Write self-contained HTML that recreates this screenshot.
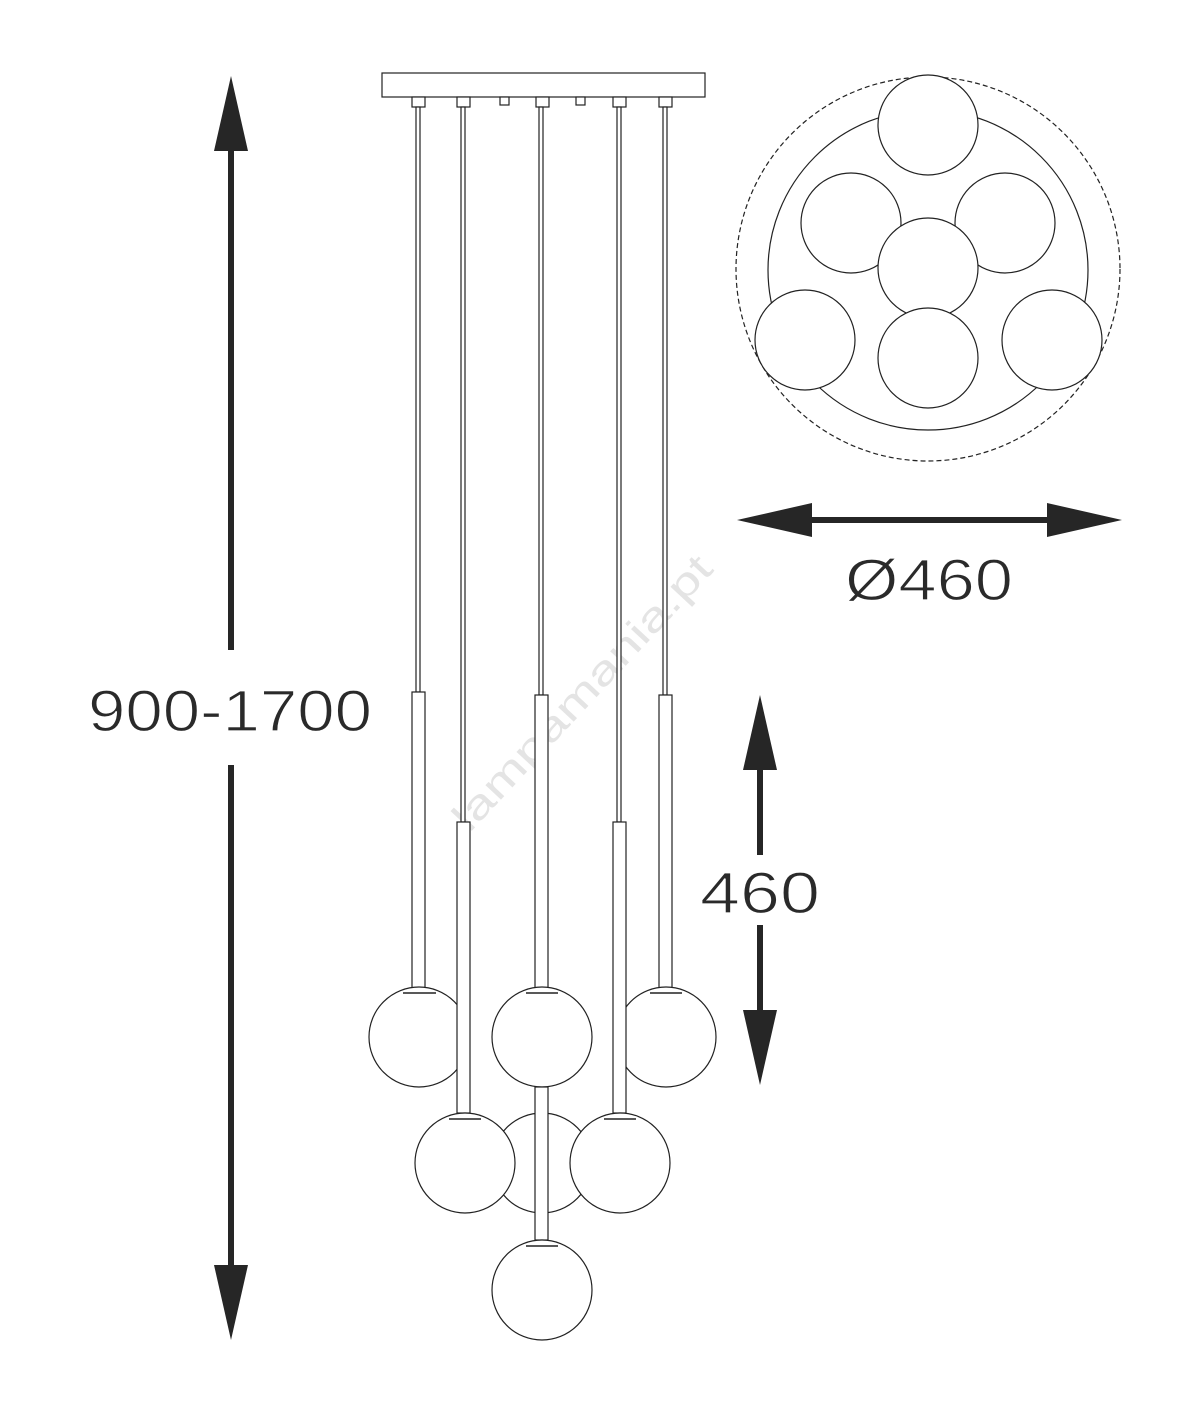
<!DOCTYPE html>
<html><head><style>html,body{margin:0;padding:0;background:#fff}</style></head><body>
<svg width="1178" height="1398" viewBox="0 0 1178 1398" xmlns="http://www.w3.org/2000/svg">
<g fill="#262626">
<polygon points="231,76 214,151 248,151"/>
<rect x="228" y="150" width="6" height="500"/>
<rect x="228" y="765" width="6" height="502"/>
<polygon points="231,1340 214,1265 248,1265"/>
<polygon points="737,520 812,503 812,537"/>
<rect x="810" y="517" width="240" height="6"/>
<polygon points="1122,520 1047,503 1047,537"/>
<polygon points="760,695 743,770 777,770"/>
<rect x="757" y="768" width="6" height="87"/>
<rect x="757" y="925" width="6" height="87"/>
<polygon points="760,1085 743,1010 777,1010"/>
</g>
<g font-family="Liberation Sans, sans-serif" fill="#2a2a2a" font-size="58" stroke="#fff" stroke-width="1.2" paint-order="normal">
<text x="88" y="731" textLength="284" lengthAdjust="spacingAndGlyphs">900-1700</text>
<text x="845" y="600" textLength="168" lengthAdjust="spacingAndGlyphs">Ø460</text>
<text x="700" y="913" textLength="120" lengthAdjust="spacingAndGlyphs">460</text>
</g>
<text x="592" y="702" transform="rotate(-47 592 702)" font-family="Liberation Sans, sans-serif" font-size="40" fill="#e4e4e4" text-anchor="middle" textLength="360" lengthAdjust="spacingAndGlyphs">lampamania.pt</text>
<g fill="#fff" stroke="#222" stroke-width="1.2">
<rect x="382" y="73" width="323" height="24"/>
<rect x="412" y="97" width="13" height="10"/>
<rect x="457" y="97" width="13" height="10"/>
<rect x="500" y="97" width="9" height="8"/>
<rect x="536" y="97" width="13" height="10"/>
<rect x="576" y="97" width="9" height="8"/>
<rect x="613" y="97" width="13" height="10"/>
<rect x="659" y="97" width="13" height="10"/>
<rect x="416" y="107" width="4" height="585"/>
<rect x="461" y="107" width="4" height="715"/>
<rect x="539" y="107" width="4" height="588"/>
<rect x="617" y="107" width="4" height="715"/>
<rect x="663" y="107" width="4" height="588"/>
<circle cx="542" cy="1163" r="50"/>
<rect x="412" y="692" width="13" height="296"/>
<rect x="535" y="695" width="13" height="293"/>
<rect x="659" y="695" width="13" height="293"/>
<circle cx="419" cy="1037" r="50"/>
<circle cx="666" cy="1037" r="50"/>
<rect x="457" y="822" width="13" height="291"/>
<rect x="613" y="822" width="13" height="291"/>
<circle cx="542" cy="1037" r="50"/>
<rect x="535" y="1087" width="13" height="153"/>
<circle cx="465" cy="1163" r="50"/>
<circle cx="620" cy="1163" r="50"/>
<circle cx="542" cy="1290" r="50"/>
</g>
<g stroke="#222" stroke-width="1.5">
<line x1="403" y1="993" x2="436" y2="993"/>
<line x1="526" y1="993" x2="558" y2="993"/>
<line x1="650" y1="993" x2="682" y2="993"/>
<line x1="449" y1="1119" x2="481" y2="1119"/>
<line x1="604" y1="1119" x2="636" y2="1119"/>
<line x1="526" y1="1246" x2="558" y2="1246"/>
</g>
<g fill="#fff" stroke="#222" stroke-width="1.2">
<circle cx="928" cy="269" r="192" stroke-dasharray="5,3"/>
<circle cx="928" cy="270" r="160"/>
<circle cx="928" cy="125" r="50"/>
<circle cx="851" cy="223" r="50"/>
<circle cx="1005" cy="223" r="50"/>
<circle cx="928" cy="268" r="50"/>
<circle cx="805" cy="340" r="50"/>
<circle cx="928" cy="358" r="50"/>
<circle cx="1052" cy="340" r="50"/>
</g>
</svg>
</body></html>
